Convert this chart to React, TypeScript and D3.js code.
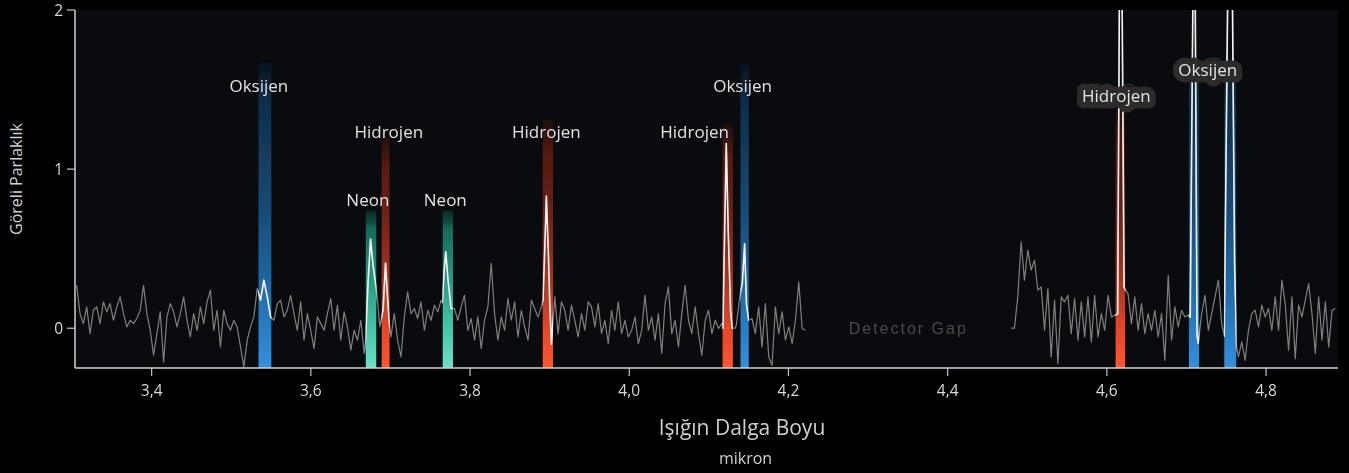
import React from 'react';
import * as d3 from 'd3';

// Spectrum samples: relative brightness, evenly spaced in wavelength (µm).
// Two detector segments; null marks samples covered by a resolved line profile.
const SEGMENT_A_START = 3.3058;
const SEGMENT_B_START = 4.4797;
const SAMPLE_STEP = 0.0042;

const FLUX_A: (number | null)[] = [
  0.270, 0.092, 0.029, 0.134, -0.034, 0.113, 0.134, 0.029, 0.166, 0.103,
  0.155, 0.050, 0.134, 0.197, 0.092, 0.008, 0.050, 0.029, 0.061, 0.113,
  0.270, 0.092, -0.013, -0.170, -0.034, 0.103, -0.212, 0.071, 0.155, 0.103,
  0.008, 0.092, 0.197, 0.050, -0.055, 0.092, -0.013, 0.134, 0.029, 0.166,
  0.239, -0.013, 0.113, -0.117, 0.113, 0.029, -0.013, 0.050, 0.008, -0.117,
  -0.243, -0.075, 0.008, 0.071, 0.249, 0.176, 0.302, 0.197, 0.071, 0.050,
  0.155, 0.176, 0.071, 0.113, 0.207, 0.092, -0.013, 0.166, -0.075, 0.092,
  -0.013, -0.128, 0.071, 0.029, -0.013, 0.092, 0.187, -0.013, 0.145, -0.075,
  0.103, 0.008, -0.138, -0.013, -0.075, 0.050, -0.159, null, null, null,
  null, null, null, null, -0.055, 0.092, -0.075, -0.180, 0.071, 0.228,
  0.092, 0.124, 0.061, 0.166, -0.013, 0.113, 0.050, 0.145, 0.103, 0.176,
  null, null, 0.124, 0.124, 0.050, 0.134, 0.207, -0.013, 0.061, -0.075,
  0.071, -0.128, 0.050, 0.134, 0.407, 0.092, -0.075, 0.071, -0.013, 0.187,
  0.050, 0.166, -0.055, 0.113, 0.008, -0.075, 0.176, 0.124, 0.071, 0.134,
  null, null, null, 0.197, -0.034, 0.166, 0.113, -0.013, 0.145, 0.050,
  -0.055, 0.092, -0.013, 0.166, 0.134, 0.008, 0.155, -0.034, 0.050, -0.096,
  0.113, -0.013, 0.166, -0.034, 0.050, -0.055, -0.013, 0.071, -0.096, -0.013,
  0.208, -0.013, 0.071, -0.075, 0.092, -0.159, 0.155, 0.260, -0.034, 0.050,
  -0.117, 0.092, 0.270, 0.050, -0.034, 0.134, -0.034, -0.170, 0.050, 0.113,
  -0.034, 0.050, -0.002, 0.030, null, null, null, 0.000, null, null,
  null, null, 0.061, -0.034, 0.134, -0.117, 0.155, -0.180, -0.233, 0.134,
  -0.034, 0.103, -0.075, 0.008, -0.096, 0.050, 0.291, -0.002, -0.013,
];

const FLUX_B: (number | null)[] = [
  0.000, 0.000, 0.197, 0.543, 0.302, 0.491, 0.365, 0.428, 0.239, 0.260,
  -0.013, 0.249, -0.180, 0.176, -0.222, 0.197, 0.166, 0.207, -0.034, 0.187,
  -0.075, 0.166, -0.055, 0.197, -0.086, 0.207, -0.055, 0.092, -0.013, 0.207,
  0.071, 0.082, null, null, 0.249, 0.214, 0.029, 0.197, -0.013, 0.155,
  -0.034, 0.092, -0.013, 0.113, -0.055, 0.092, -0.201, 0.333, -0.075, 0.134,
  0.008, 0.113, 0.071, 0.082, null, null, -0.094, 0.092, 0.207, -0.013,
  0.092, 0.197, 0.302, 0.029, null, null, null, null, -0.180, -0.086,
  -0.201, -0.013, 0.092, 0.113, 0.008, 0.145, 0.071, 0.124, -0.013, 0.197,
  -0.013, 0.302, 0.155, -0.138, 0.197, -0.191, 0.145, 0.071, 0.176, 0.281,
  0.092, -0.159, 0.197, -0.075, 0.166, -0.117, 0.113, 0.124,
];

// Resolved emission-line profiles: [wavelength µm, relative brightness]
const NEON_3675: [number, number][] = [[3.6687, -0.08], [3.672, 0.30], [3.675, 0.56], [3.6782, 0.39], [3.6825, 0.24], [3.6866, 0.01]];
const HYDROGEN_3694: [number, number][] = [[3.6908, 0.12], [3.6938, 0.41], [3.696, 0.22], [3.6983, 0.05]];
const NEON_3770: [number, number][] = [[3.7653, 0.16], [3.7674, 0.36], [3.7695, 0.48], [3.7724, 0.30], [3.7754, 0.16]];
const HYDROGEN_3896: [number, number][] = [[3.8917, 0.18], [3.8938, 0.49], [3.8959, 0.83], [3.8984, 0.47], [3.9001, 0.16], [3.9022, -0.10]];
const HYDROGEN_4122: [number, number][] = [[4.1177, 0.0], [4.1198, 0.60], [4.1219, 1.16], [4.1244, 0.60], [4.1273, 0.11], [4.1294, 0.0]];
const OXYGEN_4145: [number, number][] = [[4.1345, 0.02], [4.1395, 0.22], [4.142, 0.28], [4.1449, 0.53], [4.1473, 0.15], [4.15, 0.05]];
const HYDROGEN_4617: [number, number][] = [[4.6136, 0.09], [4.6173, 3.46], [4.6216, 0.26]];
const OXYGEN_4710: [number, number][] = [[4.7048, 0.07], [4.7099, 3.16], [4.7133, -0.05]];
const OXYGEN_4755: [number, number][] = [[4.7475, -0.05], [4.7551, 3.70], [4.7605, 0.40], [4.763, -0.12]];

const LINE_PROFILES = [
  NEON_3675, HYDROGEN_3694, NEON_3770, HYDROGEN_3896, HYDROGEN_4122,
  OXYGEN_4145, HYDROGEN_4617, OXYGEN_4710, OXYGEN_4755,
];

// Highlighted wavelength bands for identified elements
const BAND_ELEMENT = ['oxygen', 'neon', 'hydrogen', 'neon', 'hydrogen', 'hydrogen', 'oxygen', 'hydrogen', 'oxygen', 'oxygen'];
const BAND_CENTER = [3.5423, 3.6756, 3.6939, 3.772, 3.8976, 4.1236, 4.1449, 4.617, 4.7095, 4.7551];
const BAND_WIDTH = [0.0167, 0.0138, 0.0104, 0.0133, 0.0133, 0.0133, 0.0108, 0.0126, 0.0134, 0.0155];
const BAND_TOP = [1.667, 0.742, 1.2, 0.742, 1.31, 1.277, 1.654, 1.4, 1.7, 1.7];

// Element annotations (anchor wavelength, brightness level of the baseline)
const LABEL_TEXT = ['Oksijen', 'Neon', 'Hidrojen', 'Neon', 'Hidrojen', 'Hidrojen', 'Oksijen', 'Hidrojen', 'Oksijen'];
const LABEL_WAVE = [3.5347, 3.6716, 3.6979, 3.7689, 3.8959, 4.0821, 4.1424, 4.612, 4.7268];
const LABEL_LEVEL = [1.484, 0.769, 1.197, 0.769, 1.197, 1.197, 1.484, 1.42, 1.585];

const X_TICKS = [3.4, 3.6, 3.8, 4.0, 4.2, 4.4, 4.6, 4.8];
const Y_TICKS = [0, 1, 2];

const X_TITLE = 'Işığın Dalga Boyu';
const X_UNIT = 'mikron';
const Y_TITLE = 'Göreli Parlaklık';
const GAP_TEXT = 'Detector Gap';

const WIDTH = 1349;
const HEIGHT = 473;
const PLOT = { left: 75, right: 1338, top: 10, bottom: 368 };
const FONT = "'Open Sans', 'Noto Sans', sans-serif";

// Band shading: bright at the baseline, fading into the dark plot upwards
const BAND_COLORS: Record<string, string[]> = {
  oxygen: ['#3590dc', '#2a7fc6', '#1f66a0', '#174a74', '#0f3250', '#081a2c'],
  hydrogen: ['#ff5530', '#e8482a', '#a83420', '#6a2014', '#45150d', '#2a0c08'],
  neon: ['#6ee0c6', '#48c8aa', '#249a80', '#0f5444', '#0a3a30', '#062219'],
};
const STOP_OFFSETS = [0, 0.1, 0.25, 0.45, 0.7, 1];

const trFormat = d3.formatLocale({ decimal: ',', thousands: '.', grouping: [3], currency: ['', '₺'] }).format('.1f');

function buildSegment(start: number, flux: (number | null)[]): [number, number][] {
  const end = start + SAMPLE_STEP * (flux.length - 1);
  const pts: [number, number][] = [];
  flux.forEach((v, i) => {
    if (v === null) return;
    const w = start + i * SAMPLE_STEP;
    const covered = LINE_PROFILES.some(
      (p) => w >= p[0][0] - 1e-6 && w <= p[p.length - 1][0] + 1e-6
    );
    if (!covered) pts.push([w, v]);
  });
  LINE_PROFILES.forEach((p) => {
    if (p[0][0] >= start && p[0][0] <= end) pts.push(...p);
  });
  return pts.sort((a, b) => a[0] - b[0]);
}

export default function App() {
  const x = d3.scaleLinear().domain([3.3037, 4.8904]).range([PLOT.left, PLOT.right]);
  const y = d3.scaleLinear().domain([-0.25, 2]).range([PLOT.bottom, PLOT.top]);

  const segA = buildSegment(SEGMENT_A_START, FLUX_A);
  const segB = buildSegment(SEGMENT_B_START, FLUX_B);
  const line = d3
    .line<[number, number]>()
    .x((d) => x(d[0]))
    .y((d) => y(d[1]));
  const spectrumPath = (line(segA) || '') + (line(segB) || '');

  const gapStart = SEGMENT_A_START + SAMPLE_STEP * (FLUX_A.length - 1);
  const gapMid = (gapStart + SEGMENT_B_START) / 2;

  const bands = BAND_CENTER.map((c, i) => ({
    element: BAND_ELEMENT[i],
    x0: x(c - BAND_WIDTH[i] / 2),
    x1: x(c + BAND_WIDTH[i] / 2),
    top: y(BAND_TOP[i]),
  }));

  return (
    <div style={{ position: 'fixed', left: 0, top: 0, width: WIDTH, height: HEIGHT, background: '#000' }}>
      <svg width={WIDTH} height={HEIGHT} style={{ display: 'block' }}>
        <defs>
          {Object.keys(BAND_COLORS).map((k) => (
            <linearGradient
              key={k}
              id={`band-${k}`}
              gradientUnits="userSpaceOnUse"
              x1={0}
              y1={PLOT.bottom}
              x2={0}
              y2={PLOT.top}
            >
              {BAND_COLORS[k].map((c, i) => (
                <stop key={i} offset={STOP_OFFSETS[i]} stopColor={c} />
              ))}
            </linearGradient>
          ))}
          <linearGradient id="band-fade" x1={0} y1={0} x2={0} y2={1}>
            <stop offset={0} stopColor="#fff" stopOpacity={0.35} />
            <stop offset={0.12} stopColor="#fff" stopOpacity={1} />
            <stop offset={1} stopColor="#fff" stopOpacity={1} />
          </linearGradient>
          <mask id="band-mask" maskContentUnits="objectBoundingBox">
            <rect width={1} height={1} fill="url(#band-fade)" />
          </mask>
          <clipPath id="plot-clip">
            <rect x={PLOT.left} y={PLOT.top} width={PLOT.right - PLOT.left} height={PLOT.bottom - PLOT.top} />
          </clipPath>
          <clipPath id="band-clip">
            {bands.map((b, i) => (
              <rect key={i} x={b.x0} y={PLOT.top} width={b.x1 - b.x0} height={PLOT.bottom - PLOT.top} />
            ))}
          </clipPath>
          <filter id="soft" x="-50%" y="-10%" width="200%" height="120%">
            <feGaussianBlur stdDeviation="0.7" />
          </filter>
        </defs>

        <rect width={WIDTH} height={HEIGHT} fill="#000" />
        <rect
          x={PLOT.left}
          y={PLOT.top}
          width={PLOT.right - PLOT.left}
          height={PLOT.bottom - PLOT.top}
          fill="#0a0b0f"
        />

        {/* element bands */}
        <g filter="url(#soft)">
          {bands.map((b, i) => (
            <rect
              key={i}
              x={b.x0}
              y={b.top}
              width={b.x1 - b.x0}
              height={PLOT.bottom - b.top}
              fill={`url(#band-${b.element})`}
              mask="url(#band-mask)"
            />
          ))}
        </g>

        {/* detector gap note */}
        <text
          x={x(gapMid)}
          y={y(-0.036)}
          textAnchor="middle"
          fontFamily="'Liberation Sans', Arial, sans-serif"
          fontSize={16}
          letterSpacing={2}
          fill="#4a4a4a"
        >
          {GAP_TEXT}
        </text>

        {/* spectrum */}
        <g clipPath="url(#plot-clip)">
          <path d={spectrumPath} fill="none" stroke="#808080" strokeWidth={1.2} strokeLinejoin="round" />
          <g clipPath="url(#band-clip)">
            <path d={spectrumPath} fill="none" stroke="#f2f2f2" strokeWidth={1.6} strokeLinejoin="round" />
          </g>
        </g>

        {/* axes */}
        <line x1={PLOT.left} x2={PLOT.left} y1={PLOT.top} y2={PLOT.bottom} stroke="#d0d0d0" strokeWidth={1.5} />
        <line x1={PLOT.left} x2={PLOT.right} y1={PLOT.bottom} y2={PLOT.bottom} stroke="#d0d0d0" strokeWidth={1.5} />
        {Y_TICKS.map((t) => (
          <g key={t}>
            <line x1={PLOT.left - 8} x2={PLOT.left} y1={y(t)} y2={y(t)} stroke="#c8c8c8" strokeWidth={1.2} />
            <text
              x={PLOT.left - 12}
              y={y(t)}
              dy="0.36em"
              textAnchor="end"
              fontFamily={FONT}
              fontSize={15.5}
              fill="#d8d8d8"
            >
              {d3.format('d')(t)}
            </text>
          </g>
        ))}
        {X_TICKS.map((t) => (
          <g key={t}>
            <line x1={x(t)} x2={x(t)} y1={PLOT.bottom} y2={PLOT.bottom + 8} stroke="#b8c6d4" strokeWidth={1.2} />
            <text x={x(t)} y={396} textAnchor="middle" fontFamily={FONT} fontSize={15.5} fill="#d8d8d8">
              {trFormat(t)}
            </text>
          </g>
        ))}

        {/* titles */}
        <text x={742} y={435} textAnchor="middle" fontFamily={FONT} fontSize={21} fill="#cfcfcf">
          {X_TITLE}
        </text>
        <text x={745.5} y={464} textAnchor="middle" fontFamily={FONT} fontSize={16} fill="#cfcfcf">
          {X_UNIT}
        </text>
        <text
          transform="translate(21.5,179) rotate(-90)"
          textAnchor="middle"
          fontFamily={FONT}
          fontSize={16}
          fill="#cfcfcf"
        >
          {Y_TITLE}
        </text>

        {/* element labels; those past the gap sit over tall lines and get a halo */}
        {LABEL_TEXT.map((t, i) => {
          const boxed = LABEL_WAVE[i] > SEGMENT_B_START;
          return (
            <text
              key={i}
              x={x(LABEL_WAVE[i])}
              y={y(LABEL_LEVEL[i])}
              textAnchor="middle"
              fontFamily={FONT}
              fontSize={17}
              fill="#e2e2e2"
              stroke={boxed ? '#2c2b2a' : 'none'}
              strokeWidth={boxed ? 13 : 0}
              strokeLinejoin="round"
              paintOrder="stroke"
            >
              {t}
            </text>
          );
        })}
      </svg>
    </div>
  );
}
